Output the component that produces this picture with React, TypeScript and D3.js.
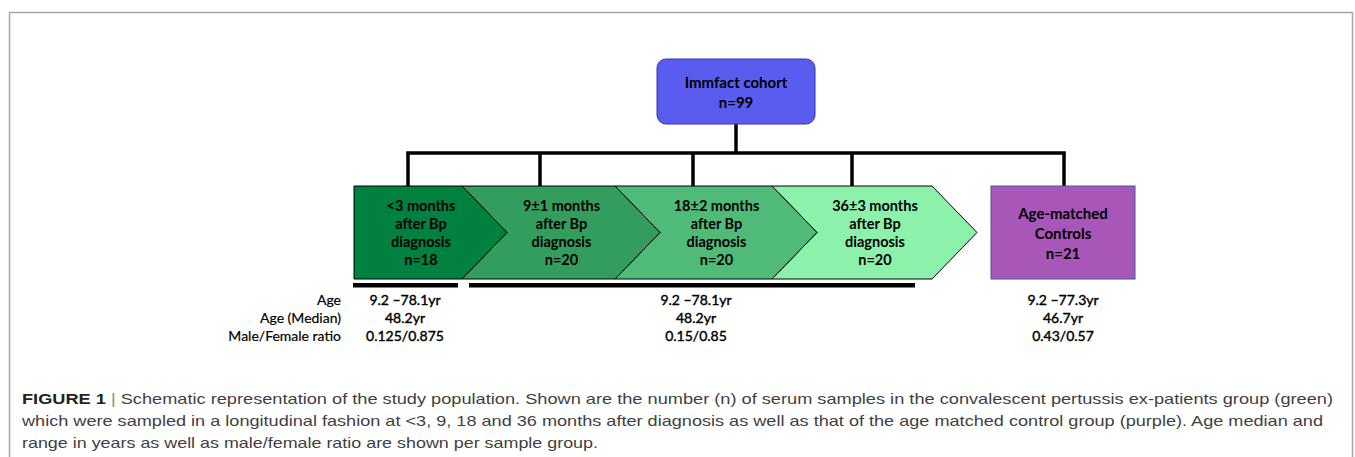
import React, { useEffect } from "react";
import * as d3 from "d3";

// ---- data ----
const cohortTitle = "Immfact cohort";
const cohortN = 99;
const stageLabels = ["<3 months", "9±1 months", "18±2 months", "36±3 months"];
const stageN = [18, 20, 20, 20];
const controlTitle = ["Age-matched", "Controls"];
const controlN = 21;
const statRows = ["Age", "Age (Median)", "Male/Female ratio"];
const statsEarly = ["9.2 –78.1yr", "48.2yr", "0.125/0.875"];
const statsLater = ["9.2 –78.1yr", "48.2yr", "0.15/0.85"];
const statsControl = ["9.2 –77.3yr", "46.7yr", "0.43/0.57"];
const captionLines = [
  "Schematic representation of the study population. Shown are the number (n) of serum samples in the convalescent pertussis ex-patients group (green)",
  "which were sampled in a longitudinal fashion at <3, 9, 18 and 36 months after diagnosis as well as that of the age matched control group (purple). Age median and",
  "range in years as well as male/female ratio are shown per sample group.",
];

// ---- layout ----
const W = 1355;
const H = 457;
const stageStarts = [354, 462, 615, 772];
const stageEnds = [462, 615, 772, 932];
const tip = 45;
const rowTop = 186;
const rowBot = 279;
const stageColors = ["#00813f", "#339d5e", "#50ba79", "#8cf1ab"];
const dropX = [408, 540, 693, 852, 1064];
const textFont = "Lato, 'Open Sans', sans-serif";

export default function App() {
  useEffect(() => {
    document.body.style.margin = "0";
  }, []);

  const mid = (rowTop + rowBot) / 2;
  const line = d3.line<[number, number]>();
  const chevron = (i: number) => {
    const s = stageStarts[i];
    const e = stageEnds[i];
    const pts: [number, number][] = [
      [s, rowTop],
      [e, rowTop],
      [e + tip, mid],
      [e, rowBot],
      [s, rowBot],
    ];
    if (i > 0) pts.push([s + tip, mid]);
    return line(pts) + "Z";
  };
  const stageCx = (i: number) => (i === 0 ? 421 : (stageStarts[i] + stageEnds[i]) / 2 + 23);

  const statY = d3.scalePoint<string>().domain(statRows).range([305, 341]);
  const cols: [number, string[]][] = [
    [405, statsEarly],
    [696, statsLater],
    [1063, statsControl],
  ];

  const captionY = [404, 426, 448];
  const captionW = [1311, 1301, 576];

  return (
    <svg width={W} height={H} style={{ display: "block" }} xmlns="http://www.w3.org/2000/svg">
      <rect width={W} height={H} fill="#fff" />
      {/* frame */}
      <path d={`M9.5,${H + 2}V12.5H1352.5V${H + 2}`} fill="none" stroke="#a6a6a6" strokeWidth={1.5} />

      {/* connectors */}
      <g stroke="#000" strokeWidth={3.5} fill="none">
        <line x1={736} x2={736} y1={124} y2={153} />
        <line x1={dropX[0] - 1.75} x2={dropX[dropX.length - 1] + 1.75} y1={153} y2={153} />
        {dropX.map((x, i) => (
          <line key={i} x1={x} x2={x} y1={153} y2={rowTop} />
        ))}
      </g>

      {/* cohort box */}
      <rect x={657} y={59} width={158} height={65} rx={9} fill="#5a5cf0" stroke="#3436a8" strokeWidth={1} />
      <g fontFamily={textFont} fontWeight="bold" fontSize={15} textAnchor="middle" fill="#000">
        <text x={736} y={88}>{cohortTitle}</text>
        <text x={736} y={108}>{`n=${cohortN}`}</text>
      </g>

      {/* stage chevrons (draw last first so earlier ones overlay) */}
      {stageLabels.map((_, i) => i).reverse().map((i) => (
        <path key={i} d={chevron(i)} fill={stageColors[i]} stroke="#000" strokeWidth={1} />
      ))}
      <g fontFamily={textFont} fontWeight="bold" fontSize={14.5} textAnchor="middle" fill="#000">
        {stageLabels.map((lab, i) => {
          const cx = stageCx(i);
          return (
            <g key={i}>
              <text x={cx} y={211}>{lab}</text>
              <text x={cx} y={229}>after Bp</text>
              <text x={cx} y={247}>diagnosis</text>
              <text x={cx} y={265}>{`n=${stageN[i]}`}</text>
            </g>
          );
        })}
      </g>

      {/* control box */}
      <rect x={991} y={rowTop} width={144} height={rowBot - rowTop} fill="#a956b9" stroke="#3d5c9c" strokeWidth={1} />
      <g fontFamily={textFont} fontWeight="bold" fontSize={15} textAnchor="middle" fill="#000">
        <text x={1063} y={219}>{controlTitle[0]}</text>
        <text x={1063} y={239}>{controlTitle[1]}</text>
        <text x={1063} y={259}>{`n=${controlN}`}</text>
      </g>

      {/* group bars */}
      <rect x={353} y={283} width={105} height={4.5} fill="#000" />
      <rect x={469} y={283} width={446} height={4.5} fill="#000" />

      {/* stats */}
      <g fontFamily={textFont} fontSize={14} fill="#000">
        {statRows.map((r) => (
          <text key={r} x={341} y={statY(r)} textAnchor="end" stroke="#000" strokeWidth={0.2}>{r}</text>
        ))}
        {cols.map(([cx, vals], ci) =>
          vals.map((v, j) => (
            <text key={`${ci}-${j}`} x={cx} y={statY(statRows[j])} textAnchor="middle" stroke="#000" strokeWidth={0.4}>{v}</text>
          ))
        )}
      </g>

      {/* caption */}
      <g fontFamily="'Liberation Sans', Arial, sans-serif" fontSize={15} fill="#3f3f3f">
        {captionLines.map((l, i) => (
          <text key={i} x={22} y={captionY[i]} textLength={captionW[i]} lengthAdjust="spacingAndGlyphs">
            {i === 0 ? (
              <>
                <tspan fontWeight="bold" fill="#222">FIGURE 1</tspan>
                <tspan fill="#888">{" | "}</tspan>
                <tspan>{l}</tspan>
              </>
            ) : (
              l
            )}
          </text>
        ))}
      </g>
    </svg>
  );
}
